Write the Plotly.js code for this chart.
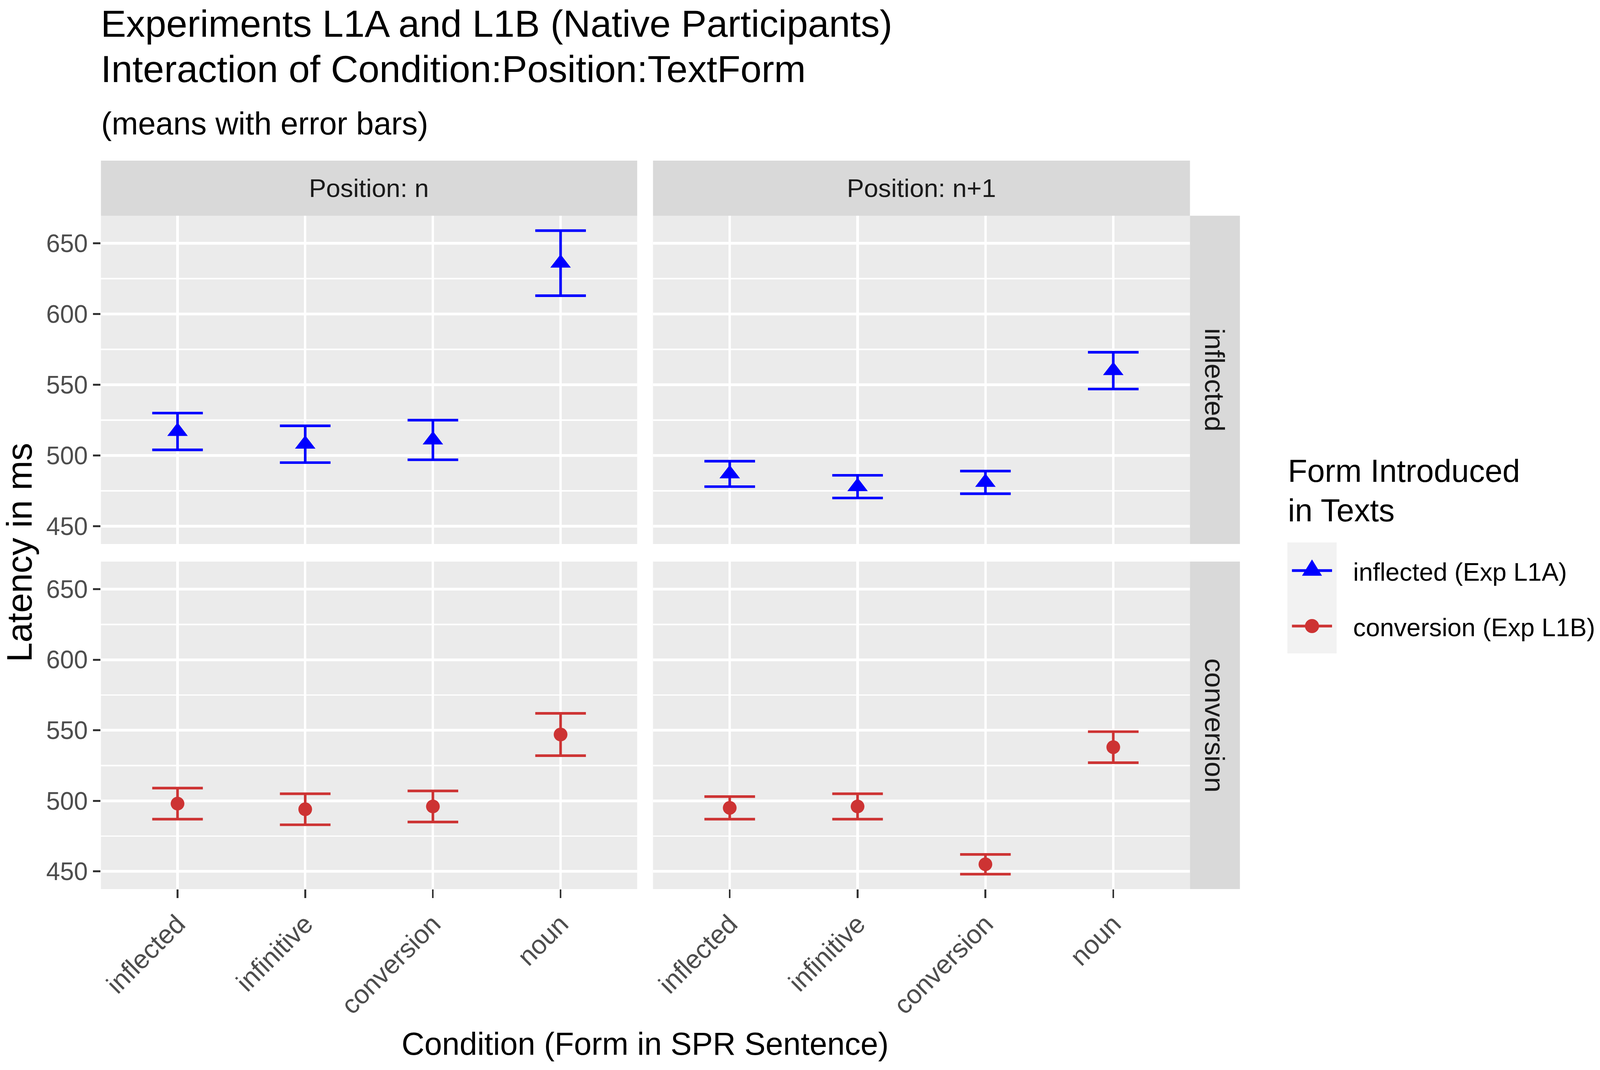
<!DOCTYPE html>
<html>
<head>
<meta charset="utf-8">
<script src="https://cdn.plot.ly/plotly-3.0.1.min.js"></script>
<style>html,body{margin:0;padding:0;background:#fff;overflow:hidden}</style>
</head>
<body>
<div id="chart"></div>
<script>
// categories
const conditions = ['inflected', 'infinitive', 'conversion', 'noun'];
const positions = ['Position: n', 'Position: n+1'];
const textForms = ['inflected', 'conversion'];
const seriesNames = ['inflected (Exp L1A)', 'conversion (Exp L1B)'];

// means and error bar half-lengths, ms
const inflectedPosN = [517, 508, 511, 636];
const inflectedPosNErr = [13, 13, 14, 23];
const inflectedPosN1 = [487, 478, 481, 560];
const inflectedPosN1Err = [9, 8, 8, 13];
const conversionPosN = [498, 494, 496, 547];
const conversionPosNErr = [11, 11, 11, 15];
const conversionPosN1 = [495, 496, 455, 538];
const conversionPosN1Err = [8, 9, 7, 11];

const yTicks = [450, 500, 550, 600, 650];

// geometry measured on the 4550x2738 reference, mapped onto the real window
const REF_W = 4550, REF_H = 2738;
const W = window.innerWidth || REF_W;
const H = window.innerHeight || REF_H;
const sx = W / REF_W, sy = H / REF_H, sm = Math.sqrt(sx * sy);
const cols = [[287, 1812], [1857, 3384]];
const rows = [[552, 1392], [1437, 2275]];
const stripTop = [411, 552];
const stripRight = [3384, 3526];
const px = x => x / REF_W;
const py = y => 1 - y / REF_H;

document.getElementById('chart').style.width = W + 'px';
document.getElementById('chart').style.height = H + 'px';

const FONT = '"Liberation Sans", Arial, sans-serif';
const colours = ['#0000FF', '#CD3333'];
const symbols = ['triangle-up', 'circle'];
const symbolSizes = [48, 37];

const panels = [
  {row: 0, col: 0, y: inflectedPosN, err: inflectedPosNErr},
  {row: 0, col: 1, y: inflectedPosN1, err: inflectedPosN1Err},
  {row: 1, col: 0, y: conversionPosN, err: conversionPosNErr},
  {row: 1, col: 1, y: conversionPosN1, err: conversionPosN1Err}
];

const allLow = [], allHigh = [];
panels.forEach(p => p.y.forEach((v, i) => { allLow.push(v - p.err[i]); allHigh.push(v + p.err[i]); }));
const lo = Math.min(...allLow), hi = Math.max(...allHigh);
const pad = (hi - lo) * 0.05;
const yRange = [lo - pad, hi + pad];

let traces = [];
let layout = {
  width: W,
  height: H,
  margin: {l: 0, r: 0, t: 0, b: 0},
  paper_bgcolor: 'white',
  plot_bgcolor: '#EBEBEB',
  showlegend: false,
  font: {family: FONT, color: '#000'},
  shapes: [],
  annotations: []
};

panels.forEach((p, k) => {
  const n = k + 1;
  const suf = n === 1 ? '' : String(n);
  const bottom = p.row === 1;
  const left = p.col === 0;

  traces.push({
    type: 'scatter',
    mode: 'markers',
    x: conditions,
    y: p.y,
    xaxis: 'x' + suf,
    yaxis: 'y' + suf,
    name: seriesNames[p.row],
    marker: {symbol: symbols[p.row], size: symbolSizes[p.row] * sm, color: colours[p.row], line: {width: 0}},
    error_y: {type: 'data', array: p.err, visible: true, color: colours[p.row], thickness: 7 * sm, width: 72 * sx},
    hoverinfo: 'x+y'
  });

  layout['xaxis' + suf] = {
    domain: [px(cols[p.col][0]), px(cols[p.col][1])],
    anchor: 'y' + suf,
    type: 'category',
    categoryorder: 'array',
    categoryarray: conditions,
    range: [-0.6, 3.6],
    showgrid: true,
    gridcolor: '#FFFFFF',
    gridwidth: 7 * sx,
    zeroline: false,
    showline: false,
    showticklabels: bottom,
    ticks: bottom ? 'outside' : '',
    ticklen: 22 * sy,
    tickwidth: 5 * sx,
    tickcolor: '#333333',
    tickangle: -45,
    ticklabelstandoff: -20 * sm,
    tickfont: {family: FONT, size: 71 * sm, color: '#4D4D4D'},
    fixedrange: true
  };

  layout['yaxis' + suf] = {
    domain: [py(rows[p.row][1]), py(rows[p.row][0])],
    anchor: 'x' + suf,
    range: yRange,
    tickvals: yTicks,
    showgrid: true,
    gridcolor: '#FFFFFF',
    gridwidth: 7 * sy,
    minor: {dtick: 25, tick0: 450, showgrid: true, gridcolor: '#FFFFFF', gridwidth: 3.5 * sy, ticks: ''},
    zeroline: false,
    showline: false,
    showticklabels: left,
    ticks: left ? 'outside' : '',
    ticklen: 22 * sx,
    tickwidth: 5 * sy,
    tickcolor: '#333333',
    ticklabelstandoff: 13 * sx,
    tickfont: {family: FONT, size: 71 * sx, color: '#4D4D4D'},
    fixedrange: true
  };
});

// facet strips
positions.forEach((label, c) => {
  layout.shapes.push({type: 'rect', xref: 'paper', yref: 'paper', layer: 'below',
    x0: px(cols[c][0]), x1: px(cols[c][1]), y0: py(stripTop[1]), y1: py(stripTop[0]),
    fillcolor: '#D9D9D9', line: {width: 0}});
  layout.annotations.push({xref: 'paper', yref: 'paper', showarrow: false,
    x: px((cols[c][0] + cols[c][1]) / 2), y: py((stripTop[0] + stripTop[1]) / 2),
    xanchor: 'center', yanchor: 'middle', text: label,
    font: {family: FONT, size: 73 * sx, color: '#1A1A1A'}});
});
textForms.forEach((label, r) => {
  layout.shapes.push({type: 'rect', xref: 'paper', yref: 'paper', layer: 'below',
    x0: px(stripRight[0]), x1: px(stripRight[1]), y0: py(rows[r][1]), y1: py(rows[r][0]),
    fillcolor: '#D9D9D9', line: {width: 0}});
  layout.annotations.push({xref: 'paper', yref: 'paper', showarrow: false,
    x: px((stripRight[0] + stripRight[1]) / 2), y: py((rows[r][0] + rows[r][1]) / 2),
    xanchor: 'center', yanchor: 'middle', text: label, textangle: 90,
    font: {family: FONT, size: 71 * sy, color: '#1A1A1A'}});
});

// titles
function addText(text, x, y, size, opts) {
  layout.annotations.push(Object.assign({xref: 'paper', yref: 'paper', showarrow: false,
    x: px(x), y: py(y), xanchor: 'left', yanchor: 'middle', text: text,
    font: {family: FONT, size: size, color: '#000'}}, opts || {}));
}
addText('Experiments L1A and L1B (Native Participants)', 284, 60, 108 * sx);
addText('Interaction of Condition:Position:TextForm', 284, 177, 108 * sx);
addText('(means with error bars)', 286, 316, 90 * sx);
addText('Condition (Form in SPR Sentence)', 1835, 2671, 90 * sx, {xanchor: 'center'});
addText('Latency in ms', 54, 1414, 91 * sy, {xanchor: 'center', textangle: -90});

// legend
addText('Form Introduced', 3660, 1205, 90 * sx);
addText('in Texts', 3660, 1306, 90 * sx);
layout.shapes.push({type: 'rect', xref: 'paper', yref: 'paper', layer: 'below',
  x0: px(3661), x1: px(3801), y0: py(1672), y1: py(1388),
  fillcolor: '#F2F2F2', line: {width: 0}});
const keyY = [1460, 1602];
const keyX = 3731;
seriesNames.forEach((name, i) => {
  layout.shapes.push({type: 'line', xref: 'paper', yref: 'paper',
    x0: px(keyX - 57), x1: px(keyX + 57), y0: py(keyY[i]), y1: py(keyY[i]),
    line: {color: colours[i], width: 7 * sy}});
  const r = 19 * sm;
  if (symbols[i] === 'triangle-up') {
    const a = 27 * sm, b = 14 * sm, c = 30 * sm;
    layout.shapes.push({type: 'path', xref: 'paper', yref: 'paper',
      xsizemode: 'pixel', ysizemode: 'pixel', xanchor: px(keyX), yanchor: py(keyY[i]),
      path: 'M ' + (-a) + ',' + (-b) + ' L ' + a + ',' + (-b) + ' L 0,' + c + ' Z',
      fillcolor: colours[i], line: {width: 0}});
  } else {
    layout.shapes.push({type: 'circle', xref: 'paper', yref: 'paper',
      xsizemode: 'pixel', ysizemode: 'pixel', xanchor: px(keyX), yanchor: py(keyY[i]),
      x0: -r, x1: r, y0: -r, y1: r, fillcolor: colours[i], line: {width: 0}});
  }
  addText(name, 3846, keyY[i] + 3, 72 * sx);
});

Plotly.newPlot('chart', traces, layout, {displayModeBar: false, staticPlot: true});
</script>
</body>
</html>
